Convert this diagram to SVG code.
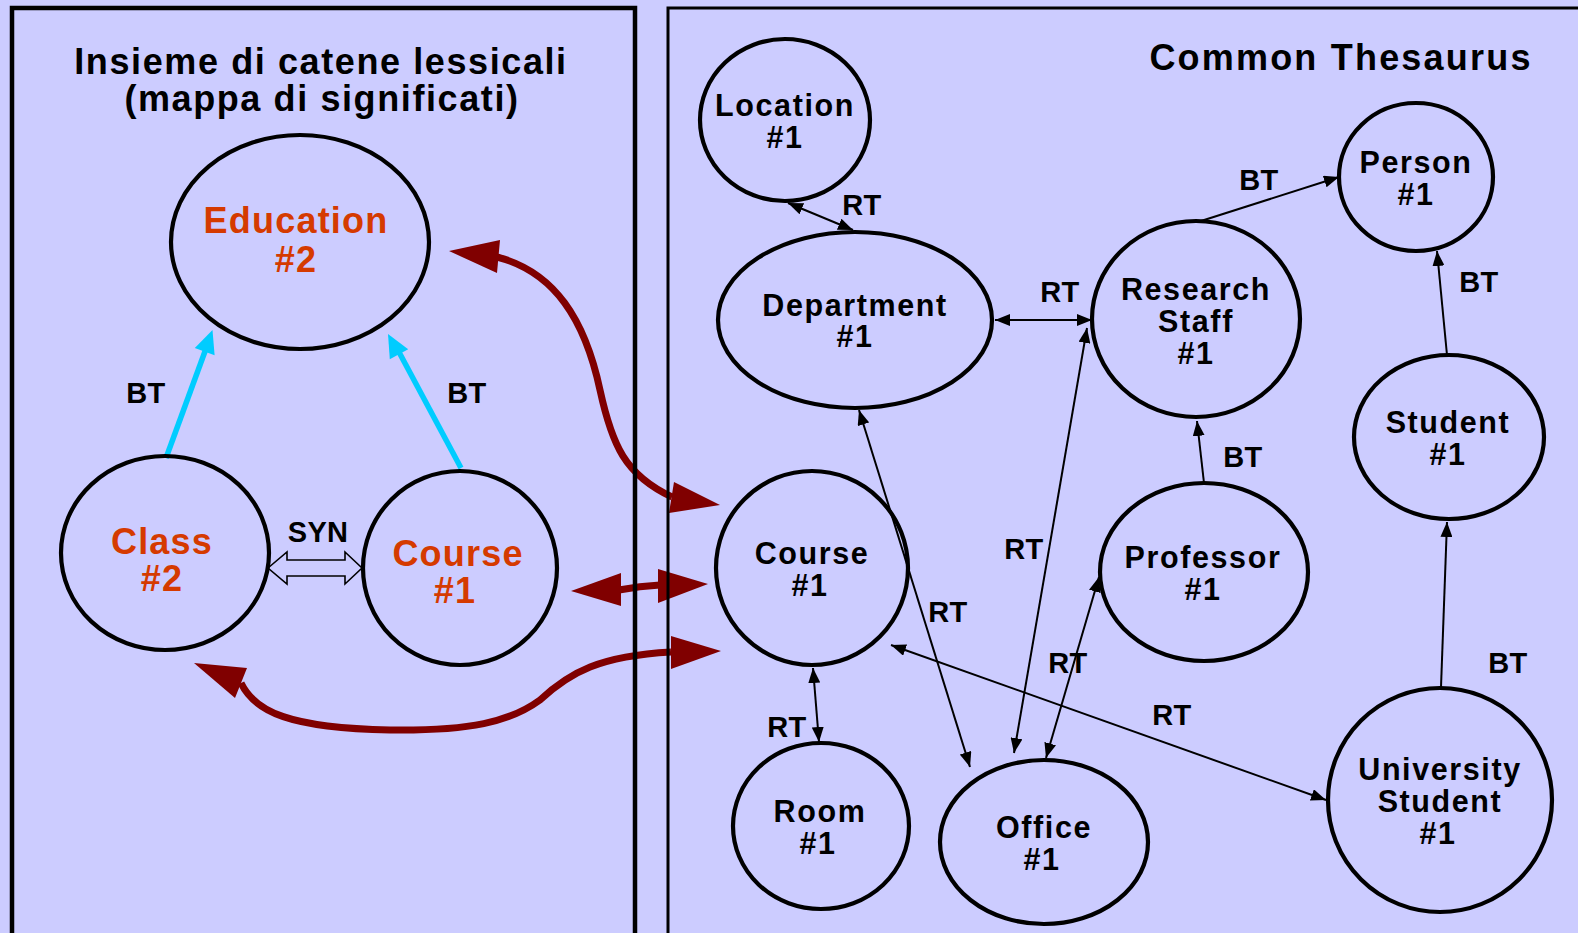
<svg xmlns="http://www.w3.org/2000/svg" width="1578" height="933" viewBox="0 0 1578 933">
<style>
text{font-family:"Liberation Sans",Arial,sans-serif;font-weight:bold;text-anchor:middle}
.title{font-size:36px;letter-spacing:1.6px;fill:#000}
.lt{font-size:36px;letter-spacing:1.2px;fill:#D53A00}
.nt{font-size:30.5px;letter-spacing:1.6px;fill:#000}
.lbl{font-size:29px;letter-spacing:0.3px;fill:#000}
.node{fill:none;stroke:#000;stroke-width:4.2}
.conn{stroke:#000;stroke-width:2;fill:none}
.mr{stroke:#800000;stroke-width:7;fill:none}
.mh{fill:#800000}
.cy{stroke:#00CCFF;stroke-width:5.5;fill:none}
.cyh{fill:#00CCFF}
.panel{fill:none;stroke:#000}
</style>
<defs>
<marker id="ae" viewBox="0 0 15 12" refX="15" refY="6" markerWidth="15" markerHeight="12" orient="auto" markerUnits="userSpaceOnUse"><path d="M0,0 L15,6 L0,12 z" fill="#000"/></marker>
<marker id="as" viewBox="0 0 15 12" refX="0" refY="6" markerWidth="15" markerHeight="12" orient="auto" markerUnits="userSpaceOnUse"><path d="M15,0 L0,6 L15,12 z" fill="#000"/></marker>
</defs>
<rect x="0" y="0" width="1578" height="933" fill="#CCCCFF"/>
<g id="connectors">
<path class="mr" d="M497,257 C555,272 585,320 600,390 C612,445 625,475 672,497"/>
<polygon class="mh" points="449,251 500,240 497,273"/>
<polygon class="mh" points="720,505 674,482 669,513"/>
<path class="mr" d="M619,590 Q640,586 660,585" stroke="#9a2020"/>
<polygon class="mh" points="571,591 621,573 621,606"/>
<polygon class="mh" points="708,584 658,569 658,603"/>
<path class="mr" d="M241,683 C255,712 290,728 390,730 C470,731 510,722 540,700 C570,672 600,656 671,652"/>
<polygon class="mh" points="194,663 247,668 235,698"/>
<polygon class="mh" points="721,651 671,636 671,669"/>
<line class="cy" x1="166" y1="458" x2="205.5" y2="350"/>
<polygon class="cyh" points="212.5,330 214.6,355.2 194.8,348"/>
<line class="cy" x1="461" y1="468" x2="399.5" y2="353"/>
<polygon class="cyh" points="388,334 408.2,349.2 389.8,359.2"/>
<polygon points="268,568 287,552 287,560 345,560 345,552 362,568 345,584 345,576 287,576 287,584" fill="#CCCCFF" stroke="#000" stroke-width="1.6"/>
<line class="conn" x1="788" y1="203" x2="853" y2="230" marker-start="url(#as)" marker-end="url(#ae)"/>
<line class="conn" x1="995" y1="320" x2="1092" y2="320" marker-start="url(#as)" marker-end="url(#ae)"/>
<line class="conn" x1="1201" y1="221" x2="1339" y2="177" marker-end="url(#ae)"/>
<line class="conn" x1="1447" y1="355" x2="1437" y2="251" marker-end="url(#ae)"/>
<line class="conn" x1="859" y1="410" x2="970" y2="767" marker-start="url(#as)" marker-end="url(#ae)"/>
<line class="conn" x1="1087" y1="328" x2="1014" y2="753" marker-start="url(#as)" marker-end="url(#ae)"/>
<line class="conn" x1="1099" y1="577" x2="1046" y2="758" marker-start="url(#as)" marker-end="url(#ae)"/>
<line class="conn" x1="1204" y1="483" x2="1197" y2="421" marker-end="url(#ae)"/>
<line class="conn" x1="1441" y1="687" x2="1447" y2="522" marker-end="url(#ae)"/>
<line class="conn" x1="891" y1="645" x2="1326" y2="800" marker-start="url(#as)" marker-end="url(#ae)"/>
<line class="conn" x1="813" y1="668" x2="819" y2="742" marker-start="url(#as)" marker-end="url(#ae)"/>
<text class="lbl" x="146" y="403">BT</text>
<text class="lbl" x="467" y="403">BT</text>
<text class="lbl" x="318" y="542">SYN</text>
<text class="lbl" x="862" y="215">RT</text>
<text class="lbl" x="1060" y="302">RT</text>
<text class="lbl" x="1259" y="190">BT</text>
<text class="lbl" x="1479" y="292">BT</text>
<text class="lbl" x="948" y="622">RT</text>
<text class="lbl" x="1024" y="559">RT</text>
<text class="lbl" x="1068" y="673">RT</text>
<text class="lbl" x="1243" y="467">BT</text>
<text class="lbl" x="1508" y="673">BT</text>
<text class="lbl" x="1172" y="725">RT</text>
<text class="lbl" x="787" y="737">RT</text>
</g>
<g id="panels">
<rect class="panel" x="12" y="8" width="623" height="960" stroke-width="4.5"/>
<rect class="panel" x="668" y="8" width="930" height="960" stroke-width="3"/>
<text class="title"><tspan x="321" y="74">Insieme di catene lessicali</tspan><tspan x="322" y="111">(mappa di significati)</tspan></text>
<text class="title" x="1341" y="70" style="letter-spacing:2.2px">Common Thesaurus</text>
</g>
<g id="education"><ellipse class="node" cx="300" cy="242" rx="129" ry="107"/><text class="lt"><tspan x="296" y="233">Education</tspan><tspan x="296" y="272">#2</tspan></text></g>
<g id="class"><ellipse class="node" cx="165" cy="553" rx="104" ry="97"/><text class="lt"><tspan x="162" y="554">Class</tspan><tspan x="162" y="591">#2</tspan></text></g>
<g id="course-left"><ellipse class="node" cx="460" cy="568" rx="97" ry="97"/><text class="lt"><tspan x="458" y="566">Course</tspan><tspan x="455" y="603">#1</tspan></text></g>
<g id="location"><ellipse class="node" cx="785" cy="120" rx="85" ry="81"/><text class="nt"><tspan x="785" y="116">Location</tspan><tspan x="785" y="148">#1</tspan></text></g>
<g id="department"><ellipse class="node" cx="855" cy="320" rx="137" ry="88"/><text class="nt"><tspan x="855" y="316">Department</tspan><tspan x="855" y="347">#1</tspan></text></g>
<g id="research-staff"><ellipse class="node" cx="1196" cy="319" rx="104" ry="98"/><text class="nt"><tspan x="1196" y="300">Research</tspan><tspan x="1196" y="332">Staff</tspan><tspan x="1196" y="364">#1</tspan></text></g>
<g id="person"><ellipse class="node" cx="1416" cy="177" rx="77" ry="74"/><text class="nt"><tspan x="1416" y="173">Person</tspan><tspan x="1416" y="205">#1</tspan></text></g>
<g id="student"><ellipse class="node" cx="1449" cy="437" rx="95" ry="82"/><text class="nt"><tspan x="1448" y="433">Student</tspan><tspan x="1448" y="465">#1</tspan></text></g>
<g id="course"><ellipse class="node" cx="812" cy="568" rx="96" ry="97"/><text class="nt"><tspan x="812" y="564">Course</tspan><tspan x="810" y="596">#1</tspan></text></g>
<g id="professor"><ellipse class="node" cx="1204" cy="572" rx="104" ry="89"/><text class="nt"><tspan x="1203" y="568">Professor</tspan><tspan x="1203" y="600">#1</tspan></text></g>
<g id="room"><ellipse class="node" cx="821" cy="826" rx="88" ry="83"/><text class="nt"><tspan x="820" y="822">Room</tspan><tspan x="818" y="854">#1</tspan></text></g>
<g id="office"><ellipse class="node" cx="1044" cy="842" rx="104" ry="82"/><text class="nt"><tspan x="1044" y="838">Office</tspan><tspan x="1042" y="870">#1</tspan></text></g>
<g id="university-student"><ellipse class="node" cx="1440" cy="800" rx="112" ry="112"/><text class="nt"><tspan x="1440" y="780">University</tspan><tspan x="1440" y="812">Student</tspan><tspan x="1438" y="844">#1</tspan></text></g>
</svg>
